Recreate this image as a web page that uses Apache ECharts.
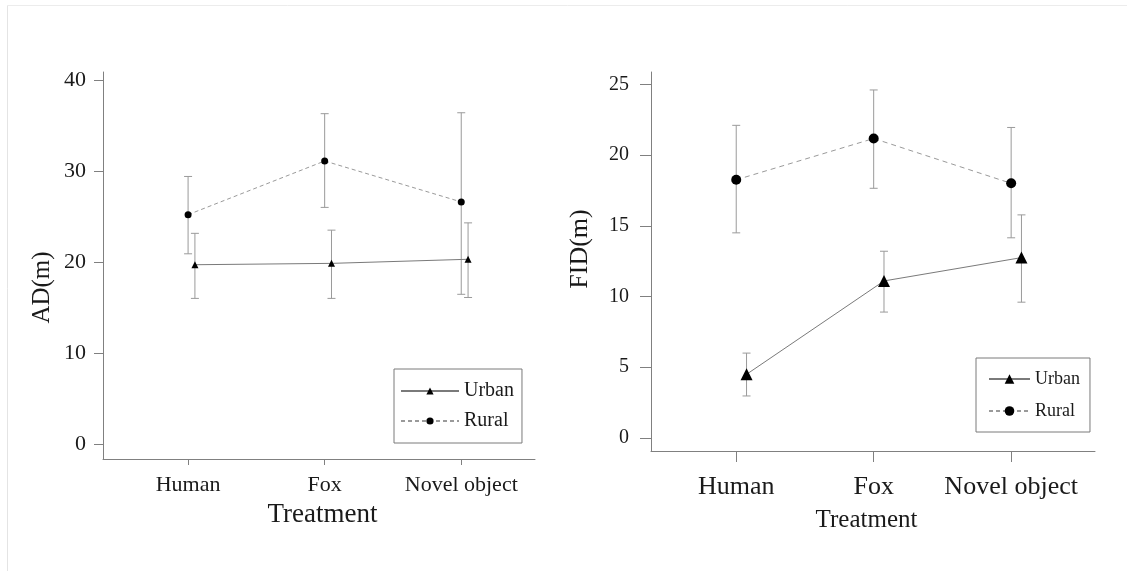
<!DOCTYPE html>
<html>
<head>
<meta charset="utf-8">
<script src="https://cdn.jsdelivr.net/npm/echarts@6/dist/echarts.min.js"></script>
<style>
  html, body { margin: 0; padding: 0; background: #fff; }
  #chart { width: 1127px; height: 571px; }
</style>
</head>
<body>
<div id="chart"></div>
<script>
// ---------- data ----------
const categories = ['Human', 'Fox', 'Novel object'];

const adUrbanMean = [19.7, 19.85, 20.3];
const adUrbanLow  = [16.0, 16.0, 16.1];
const adUrbanHigh = [23.15, 23.5, 24.3];
const adRuralMean = [25.2, 31.1, 26.6];
const adRuralLow  = [20.9, 26.0, 16.45];
const adRuralHigh = [29.4, 36.3, 36.4];

const fidUrbanMean = [4.5, 11.1, 12.75];
const fidUrbanLow  = [2.97, 8.9, 9.6];
const fidUrbanHigh = [6.0, 13.2, 15.77];
const fidRuralMean = [18.25, 21.17, 18.0];
const fidRuralLow  = [14.5, 17.65, 14.15];
const fidRuralHigh = [22.1, 24.6, 21.95];

const adTicks  = [0, 10, 20, 30, 40];
const fidTicks = [0, 5, 10, 15, 20, 25];
const catPositions = [1, 2, 3];

// ---------- helpers ----------
const FONT = 'Liberation Serif, Times New Roman, serif';
const AXIS_GREY = '#808080';
const TEXT = '#1a1a1a';

function pts(means, dodge) {
  return means.map((v, i) => [catPositions[i] + dodge, v]);
}
function bars(low, high, dodge) {
  return low.map((l, i) => [catPositions[i] + dodge, l, high[i]]);
}
function errorRender(cap) {
  return function (params, api) {
    const x = api.value(0);
    const lo = api.coord([x, api.value(1)]);
    const hi = api.coord([x, api.value(2)]);
    const st = { stroke: '#9a9a9a', lineWidth: 1 };
    return {
      type: 'group',
      children: [
        { type: 'line', shape: { x1: lo[0], y1: lo[1], x2: hi[0], y2: hi[1] }, style: st },
        { type: 'line', shape: { x1: lo[0] - cap, y1: lo[1], x2: lo[0] + cap, y2: lo[1] }, style: st },
        { type: 'line', shape: { x1: hi[0] - cap, y1: hi[1], x2: hi[0] + cap, y2: hi[1] }, style: st }
      ]
    };
  };
}
function catFormatter(v) {
  const i = catPositions.indexOf(Math.round(v));
  return i >= 0 ? categories[i] : '';
}

const leftDodge = 0.05;
const rightDodge = 0.075;

const option = {
  animation: false,
  backgroundColor: '#ffffff',
  graphic: [
    { type: 'line', shape: { x1: 7.5, y1: 5.5, x2: 1127, y2: 5.5 }, style: { stroke: '#ececec', lineWidth: 1 } },
    { type: 'line', shape: { x1: 7.5, y1: 5.5, x2: 7.5, y2: 571 }, style: { stroke: '#e4e4e4', lineWidth: 1 } }
  ],
  grid: [
    { left: 103, top: 72, width: 432, height: 387 },
    { left: 651, top: 72, width: 444, height: 379 }
  ],
  legend: [
    {
      data: ['Urban', 'Rural'],
      orient: 'vertical',
      left: 394, top: 369,
      itemWidth: 58, itemHeight: 9, itemGap: 6,
      padding: [10, 8, 10, 6],
      borderColor: '#7a7a7a', borderWidth: 1,
      textStyle: { fontFamily: FONT, fontSize: 20, color: TEXT, lineHeight: 24 },
      selectedMode: false
    },
    {
      data: ['Urban', 'Rural'],
      orient: 'vertical',
      left: 976, top: 358,
      itemWidth: 41, itemHeight: 12, itemGap: 10,
      padding: [10, 10, 10, 12],
      borderColor: '#7a7a7a', borderWidth: 1,
      textStyle: { fontFamily: FONT, fontSize: 18, color: TEXT, lineHeight: 22 },
      selectedMode: false
    }
  ],
  xAxis: [
    {
      type: 'value', gridIndex: 0, min: 0.377, max: 3.54,
      name: 'Treatment', nameLocation: 'middle', nameGap: 42,
      nameTextStyle: { fontFamily: FONT, fontSize: 27, color: TEXT, padding: [0, 0, 0, 7] },
      axisLine: { show: true, onZero: false, lineStyle: { color: AXIS_GREY, width: 1 } },
      axisTick: { show: true, length: 6, customValues: catPositions, lineStyle: { color: AXIS_GREY } },
      axisLabel: { customValues: catPositions, formatter: catFormatter, fontFamily: FONT, fontSize: 22, color: TEXT, margin: 15 },
      splitLine: { show: false }
    },
    {
      type: 'value', gridIndex: 1, min: 0.38, max: 3.61,
      name: 'Treatment', nameLocation: 'middle', nameGap: 57,
      nameTextStyle: { fontFamily: FONT, fontSize: 25, color: TEXT, padding: [0, 13, 0, 0] },
      axisLine: { show: true, onZero: false, lineStyle: { color: AXIS_GREY, width: 1 } },
      axisTick: { show: true, length: 11, customValues: catPositions, lineStyle: { color: AXIS_GREY } },
      axisLabel: { customValues: catPositions, formatter: catFormatter, fontFamily: FONT, fontSize: 26, color: TEXT, margin: 23 },
      splitLine: { show: false }
    }
  ],
  yAxis: [
    {
      type: 'value', gridIndex: 0, min: -1.65, max: 40.88,
      name: 'AD(m)', nameLocation: 'middle', nameGap: 48,
      nameTextStyle: { fontFamily: FONT, fontSize: 25, color: TEXT, padding: [0, 44, 0, 0] },
      axisLine: { show: true, onZero: false, lineStyle: { color: AXIS_GREY, width: 1 } },
      axisTick: { show: true, length: 9, customValues: adTicks, lineStyle: { color: AXIS_GREY } },
      axisLabel: { customValues: adTicks, fontFamily: FONT, fontSize: 22, color: TEXT, margin: 17 },
      splitLine: { show: false }
    },
    {
      type: 'value', gridIndex: 1, min: -0.92, max: 25.87,
      name: 'FID(m)', nameLocation: 'middle', nameGap: 58,
      nameTextStyle: { fontFamily: FONT, fontSize: 26, color: TEXT, padding: [0, 0, 0, 25] },
      axisLine: { show: true, onZero: false, lineStyle: { color: AXIS_GREY, width: 1 } },
      axisTick: { show: true, length: 11, customValues: fidTicks, lineStyle: { color: AXIS_GREY } },
      axisLabel: { customValues: fidTicks, fontFamily: FONT, fontSize: 20, color: TEXT, margin: 22 },
      splitLine: { show: false }
    }
  ],
  series: [
    // ---- left: AD ----
    { type: 'custom', name: 'adUrbanErr', xAxisIndex: 0, yAxisIndex: 0, renderItem: errorRender(4),
      data: bars(adUrbanLow, adUrbanHigh, leftDodge), encode: { x: 0, y: [1, 2] }, z: 1, silent: true },
    { type: 'custom', name: 'adRuralErr', xAxisIndex: 0, yAxisIndex: 0, renderItem: errorRender(4),
      data: bars(adRuralLow, adRuralHigh, 0), encode: { x: 0, y: [1, 2] }, z: 1, silent: true },
    { type: 'line', name: 'Urban', xAxisIndex: 0, yAxisIndex: 0, data: pts(adUrbanMean, leftDodge),
      symbol: 'triangle', symbolSize: 7, itemStyle: { color: '#000' },
      lineStyle: { color: '#7a7a7a', width: 1, type: 'solid' }, z: 3 },
    { type: 'line', name: 'Rural', xAxisIndex: 0, yAxisIndex: 0, data: pts(adRuralMean, 0),
      symbol: 'circle', symbolSize: 7, itemStyle: { color: '#000' },
      lineStyle: { color: '#9a9a9a', width: 1, type: [4, 3] }, z: 3 },
    // ---- right: FID ----
    { type: 'custom', name: 'fidUrbanErr', xAxisIndex: 1, yAxisIndex: 1, renderItem: errorRender(4),
      data: bars(fidUrbanLow, fidUrbanHigh, rightDodge), encode: { x: 0, y: [1, 2] }, z: 1, silent: true },
    { type: 'custom', name: 'fidRuralErr', xAxisIndex: 1, yAxisIndex: 1, renderItem: errorRender(4),
      data: bars(fidRuralLow, fidRuralHigh, 0), encode: { x: 0, y: [1, 2] }, z: 1, silent: true },
    { type: 'line', name: 'Urban', xAxisIndex: 1, yAxisIndex: 1, data: pts(fidUrbanMean, rightDodge),
      symbol: 'triangle', symbolSize: 12, itemStyle: { color: '#000' },
      lineStyle: { color: '#7a7a7a', width: 1, type: 'solid' }, z: 3 },
    { type: 'line', name: 'Rural', xAxisIndex: 1, yAxisIndex: 1, data: pts(fidRuralMean, 0),
      symbol: 'circle', symbolSize: 10, itemStyle: { color: '#000' },
      lineStyle: { color: '#9a9a9a', width: 1, type: [5, 4] }, z: 3 }
  ]
};

const chart = echarts.init(document.getElementById('chart'), null, { renderer: 'canvas' });
chart.setOption(option);
</script>
</body>
</html>
